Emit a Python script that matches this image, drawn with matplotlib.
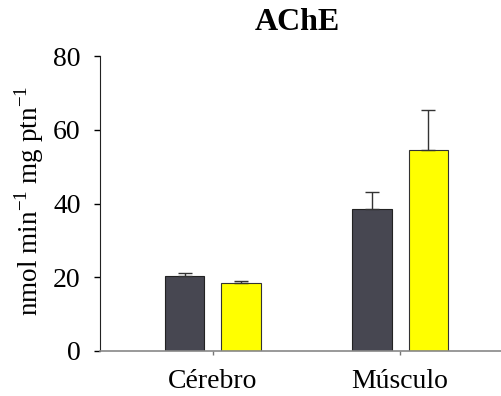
import numpy as np
import matplotlib
matplotlib.use("Agg")
import matplotlib.pyplot as plt

# data
categories = ["Cérebro", "Músculo"]
control = [20.4, 38.4]
control_err = [0.8, 4.6]
treated = [18.5, 54.5]
treated_err = [0.6, 10.9]

plt.rcParams["font.family"] = ["Liberation Serif", "DejaVu Serif"]
plt.rcParams["mathtext.fontset"] = "custom"
plt.rcParams["mathtext.rm"] = "Liberation Serif"

fig = plt.figure(figsize=(5.02, 3.96), dpi=100)
ax = fig.add_axes([100 / 502, 45 / 396, 402 / 502, 295 / 396])

x = np.arange(len(categories))
w = 0.209
off = 0.15
ax.bar(x - off, control, w, color="#474751", edgecolor="#222222", linewidth=0.8,
       yerr=[[0, 0], control_err], error_kw=dict(ecolor="#333333", elinewidth=1, capsize=5, capthick=1))
ax.bar(x + off, treated, w, color="#FFFF00", edgecolor="#333333", linewidth=0.8,
       yerr=[[0, 0], treated_err], error_kw=dict(ecolor="#333333", elinewidth=1, capsize=5, capthick=1))

ax.set_xlim(-0.604, 1.545)
ax.set_ylim(0, 80)
ax.set_yticks([0, 20, 40, 60, 80])
ax.set_xticks(x)
ax.set_xticklabels(categories)
ax.tick_params(axis="y", labelsize=20, length=4, width=1, direction="out", pad=10)
ax.tick_params(axis="x", labelsize=20, length=3, width=1, color="#777777", pad=10)

for s in ["top", "right"]:
    ax.spines[s].set_visible(False)
ax.spines["left"].set_color("#222222")
ax.spines["bottom"].set_color("#888888")
ax.spines["bottom"].set_linewidth(1.2)

ax.set_ylabel(r"nmol min$^{\mathregular{-1}}$ mg ptn$^{\mathregular{-1}}$", fontsize=19.5)
ax.yaxis.set_label_coords(-0.135, 0.51)
fig.text(297.5 / 502, 1 - 23 / 396, "AChE", ha="center", va="center", fontsize=23, fontweight="bold")

fig.savefig("out.png", dpi=100)
